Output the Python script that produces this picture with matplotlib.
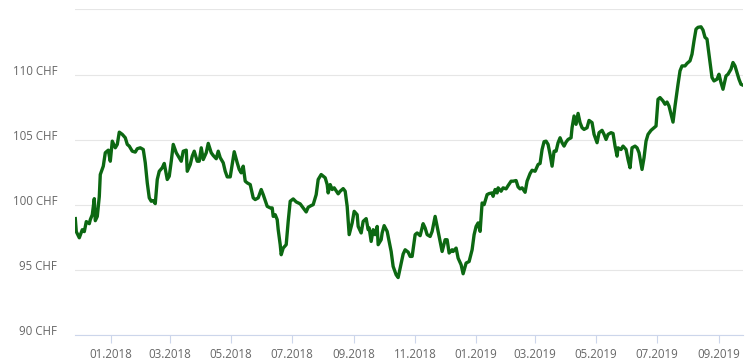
import pandas as pd
import matplotlib
matplotlib.use("Agg")
import matplotlib.pyplot as plt
import matplotlib.dates as mdates
import matplotlib.transforms as mtransforms
from matplotlib.ticker import FuncFormatter

plt.rcParams['font.family'] = ['Open Sans', 'DejaVu Sans']

# Kursverlauf (CHF)
datum = [
    "2017-11-26", "2017-11-27", "2017-11-30", "2017-12-03", "2017-12-05", "2017-12-07",
    "2017-12-10", "2017-12-11", "2017-12-13", "2017-12-15", "2017-12-16", "2017-12-18",
    "2017-12-20", "2017-12-21", "2017-12-24", "2017-12-26", "2017-12-29", "2017-12-31",
    "2018-01-02", "2018-01-05", "2018-01-07", "2018-01-09", "2018-01-12", "2018-01-15",
    "2018-01-17", "2018-01-19", "2018-01-22", "2018-01-25", "2018-01-27", "2018-01-30",
    "2018-02-02", "2018-02-04", "2018-02-06", "2018-02-08", "2018-02-10", "2018-02-12",
    "2018-02-14", "2018-02-16", "2018-02-18", "2018-02-21", "2018-02-23", "2018-02-26",
    "2018-02-28", "2018-03-02", "2018-03-04", "2018-03-07", "2018-03-09", "2018-03-12",
    "2018-03-14", "2018-03-17", "2018-03-18", "2018-03-21", "2018-03-23", "2018-03-25",
    "2018-03-28", "2018-03-30", "2018-04-01", "2018-04-03", "2018-04-06", "2018-04-08",
    "2018-04-11", "2018-04-13", "2018-04-16", "2018-04-18", "2018-04-20", "2018-04-23",
    "2018-04-25", "2018-04-27", "2018-04-30", "2018-05-02", "2018-05-04", "2018-05-07",
    "2018-05-09", "2018-05-11", "2018-05-13", "2018-05-15", "2018-05-17", "2018-05-20",
    "2018-05-23", "2018-05-25", "2018-05-28", "2018-05-31", "2018-06-02", "2018-06-06",
    "2018-06-09", "2018-06-11", "2018-06-12", "2018-06-14", "2018-06-16", "2018-06-17",
    "2018-06-19", "2018-06-20", "2018-06-22", "2018-06-25", "2018-06-27", "2018-06-29",
    "2018-07-02", "2018-07-05", "2018-07-09", "2018-07-12", "2018-07-15", "2018-07-17",
    "2018-07-20", "2018-07-22", "2018-07-25", "2018-07-27", "2018-07-30", "2018-08-01",
    "2018-08-03", "2018-08-05", "2018-08-06", "2018-08-08", "2018-08-10", "2018-08-12",
    "2018-08-16", "2018-08-18", "2018-08-21", "2018-08-23", "2018-08-25", "2018-08-27",
    "2018-08-30", "2018-09-01", "2018-09-04", "2018-09-05", "2018-09-08", "2018-09-10",
    "2018-09-13", "2018-09-15", "2018-09-16", "2018-09-18", "2018-09-20", "2018-09-22",
    "2018-09-24", "2018-09-25", "2018-09-28", "2018-09-29", "2018-10-01", "2018-10-04",
    "2018-10-06", "2018-10-08", "2018-10-10", "2018-10-13", "2018-10-15", "2018-10-17",
    "2018-10-20", "2018-10-22", "2018-10-25", "2018-10-27", "2018-10-29", "2018-11-01",
    "2018-11-03", "2018-11-06", "2018-11-09", "2018-11-11", "2018-11-13", "2018-11-16",
    "2018-11-18", "2018-11-21", "2018-11-23", "2018-11-26", "2018-11-28", "2018-12-01",
    "2018-12-03", "2018-12-05", "2018-12-08", "2018-12-09", "2018-12-12", "2018-12-14",
    "2018-12-17", "2018-12-19", "2018-12-22", "2018-12-25", "2018-12-28", "2018-12-30",
    "2019-01-01", "2019-01-03", "2019-01-05", "2019-01-07", "2019-01-09", "2019-01-12",
    "2019-01-14", "2019-01-17", "2019-01-18", "2019-01-20", "2019-01-22", "2019-01-23",
    "2019-01-26", "2019-01-28", "2019-01-31", "2019-02-02", "2019-02-05", "2019-02-07",
    "2019-02-10", "2019-02-12", "2019-02-14", "2019-02-16", "2019-02-19", "2019-02-21",
    "2019-02-24", "2019-02-26", "2019-03-01", "2019-03-04", "2019-03-06", "2019-03-08",
    "2019-03-10", "2019-03-12", "2019-03-14", "2019-03-16", "2019-03-18", "2019-03-20",
    "2019-03-22", "2019-03-24", "2019-03-26", "2019-03-28", "2019-03-30", "2019-04-01",
    "2019-04-03", "2019-04-06", "2019-04-07", "2019-04-09", "2019-04-11", "2019-04-13",
    "2019-04-15", "2019-04-17", "2019-04-19", "2019-04-22", "2019-04-24", "2019-04-27",
    "2019-04-29", "2019-05-02", "2019-05-04", "2019-05-07", "2019-05-09", "2019-05-11",
    "2019-05-13", "2019-05-16", "2019-05-18", "2019-05-20", "2019-05-22", "2019-05-23",
    "2019-05-26", "2019-05-28", "2019-05-31", "2019-06-02", "2019-06-04", "2019-06-06",
    "2019-06-09", "2019-06-11", "2019-06-13", "2019-06-16", "2019-06-18", "2019-06-20",
    "2019-06-22", "2019-06-25", "2019-06-27", "2019-06-30", "2019-07-02", "2019-07-04",
    "2019-07-07", "2019-07-09", "2019-07-11", "2019-07-13", "2019-07-17", "2019-07-19",
    "2019-07-22", "2019-07-24", "2019-07-26", "2019-07-29", "2019-07-31", "2019-08-03",
    "2019-08-05", "2019-08-07", "2019-08-09", "2019-08-11", "2019-08-14", "2019-08-16",
    "2019-08-18", "2019-08-20", "2019-08-22", "2019-08-25", "2019-08-27", "2019-08-30",
    "2019-09-01", "2019-09-03", "2019-09-05", "2019-09-08", "2019-09-10", "2019-09-13",
    "2019-09-15", "2019-09-17", "2019-09-19", "2019-09-21", "2019-09-23", "2019-09-25",
]

kurs = [
    98.95, 97.95, 97.48, 98.10, 97.95, 98.72,
    98.56, 98.87, 99.25, 100.48, 98.79, 99.12,
    100.64, 102.33, 102.97, 104.00, 104.20, 103.35,
    104.89, 104.38, 104.64, 105.58, 105.41, 105.15,
    104.64, 104.51, 104.12, 104.05, 104.31, 104.38,
    104.25, 103.23, 101.69, 100.54, 100.28, 100.33,
    100.10, 101.95, 102.58, 102.85, 103.18, 101.95,
    102.20, 103.35, 104.64, 104.00, 103.74, 103.35,
    104.12, 104.20, 102.58, 103.10, 103.74, 104.12,
    103.35, 103.35, 104.38, 103.48, 104.00, 104.72,
    104.00, 103.79, 103.54, 104.12, 103.62, 103.23,
    102.58, 102.15, 102.15, 103.10, 104.08, 103.23,
    102.72, 102.46, 102.97, 101.82, 101.69, 101.56,
    100.54, 100.41, 100.54, 101.18, 100.79, 99.89,
    99.77, 99.77, 99.12, 99.25, 98.87, 98.10,
    96.95, 96.18, 96.69, 96.95, 98.74, 100.28,
    100.46, 100.23, 100.08, 99.77, 99.46, 99.82,
    99.95, 100.02, 100.79, 101.95, 102.33, 102.20,
    102.08, 101.56, 100.92, 101.56, 101.18, 101.31,
    100.85, 101.05, 101.25, 101.05, 99.89, 97.72,
    98.62, 99.51, 99.25, 98.35, 97.85, 98.74,
    98.95, 98.10, 98.23, 97.20, 98.10, 97.72,
    98.35, 96.95, 97.33, 97.85, 98.41, 97.97,
    97.20, 96.43, 95.28, 94.64, 94.43, 95.15,
    96.23, 96.56, 96.38, 96.05, 96.05, 97.72,
    97.85, 97.64, 98.56, 98.23, 97.72, 97.58,
    97.97, 99.12, 98.35, 97.20, 96.43, 97.33,
    97.33, 96.31, 96.56, 96.43, 96.69, 95.92,
    95.41, 94.72, 95.54, 95.66, 96.56, 97.72,
    98.35, 98.62, 97.97, 100.15, 100.02, 100.79,
    100.87, 100.92, 100.66, 101.18, 100.92, 101.31,
    101.05, 101.31, 101.23, 101.48, 101.82, 101.82,
    101.87, 101.38, 101.23, 101.31, 100.97, 101.82,
    102.41, 102.66, 102.58, 103.10, 103.18, 104.25,
    104.85, 104.89, 104.64, 103.87, 102.97, 104.12,
    104.12, 104.77, 105.15, 104.77, 104.51, 104.82,
    105.02, 105.15, 105.92, 106.82, 106.18, 107.02,
    106.31, 105.92, 105.79, 105.92, 106.48, 106.31,
    105.41, 104.77, 105.54, 105.72, 105.41, 105.02,
    105.41, 105.54, 105.48, 104.51, 103.74, 104.38,
    104.25, 104.51, 104.25, 103.48, 102.85, 104.38,
    104.51, 104.38, 104.00, 102.72, 103.62, 104.89,
    105.41, 105.72, 105.85, 106.05, 108.10, 108.23,
    107.97, 107.72, 107.89, 107.58, 106.35, 107.58,
    109.25, 110.28, 110.66, 110.66, 110.85, 111.05,
    111.56, 112.58, 113.48, 113.62, 113.66, 113.41,
    112.85, 112.72, 111.56, 109.77, 109.51, 109.64,
    110.02, 109.38, 108.87, 109.89, 110.02, 110.41,
    110.92, 110.66, 110.15, 109.64, 109.25, 109.18,
]

y_ticks = [90, 95, 100, 105, 110, 115]

df = pd.DataFrame({"datum": pd.to_datetime(datum), "kurs": kurs})

fig = plt.figure(figsize=(7.53, 3.6), dpi=100)
ax = fig.add_axes([0.1, 0.0686, 0.8867, 0.9055])

ax.plot(df["datum"], df["kurs"], color="#0c6812", linewidth=2.4, solid_joinstyle="round")

ax.set_xlim(df["datum"].iloc[0], df["datum"].iloc[-1])
ax.set_ylim(90, 115)
ax.set_yticks(y_ticks)
ax.yaxis.set_major_formatter(FuncFormatter(lambda v, p: "" if v >= 115 else f"{v:.0f} CHF"))
ax.grid(axis="y", color="#e6e6e6", linewidth=0.8)
ax.set_axisbelow(True)

ax.xaxis.set_major_locator(mdates.MonthLocator(bymonth=[1, 3, 5, 7, 9, 11]))
ax.xaxis.set_major_formatter(mdates.DateFormatter("%m.%Y"))

for s in ["top", "right", "left"]:
    ax.spines[s].set_visible(False)
ax.spines["bottom"].set_color("#ccd6eb")
ax.spines["bottom"].set_linewidth(0.8)

ax.tick_params(axis="y", length=0, pad=13, labelsize=8.3, labelcolor="#666666")
ax.tick_params(axis="x", length=6, width=0.8, color="#ccd6eb", pad=3,
               labelsize=8.3, labelcolor="#666666")

# y-Beschriftungen etwas oberhalb der Gitterlinien
hoch = mtransforms.ScaledTranslation(0, 5 / 100, fig.dpi_scale_trans)
for lbl in ax.get_yticklabels():
    lbl.set_transform(lbl.get_transform() + hoch)

fig.savefig("out.png", dpi=100)
